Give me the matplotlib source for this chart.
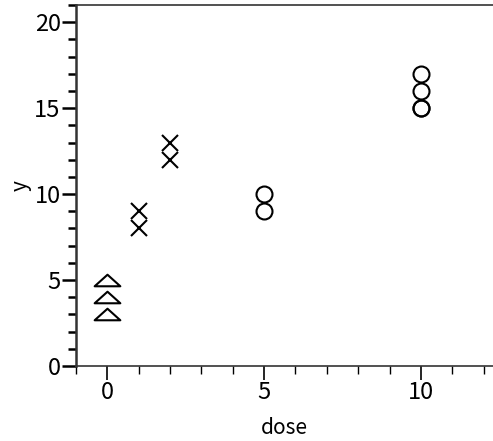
import numpy as np
import matplotlib.pyplot as plt
from matplotlib.path import Path
from matplotlib.ticker import MultipleLocator

plt.rcParams['font.family'] = ['Noto Sans CJK JP', 'DejaVu Sans']

# data
tri_dose = [0, 0, 0]
tri_y = [5, 4, 3]
x_dose = [1, 1, 2, 2]
x_y = [9, 8, 13, 12]
circ_dose = [5, 5, 10, 10, 10, 10]
circ_y = [10, 9, 17, 16, 15, 15]

flat_tri = Path([(-1, -0.45), (1, -0.45), (0, 0.45), (-1, -0.45)],
                [Path.MOVETO, Path.LINETO, Path.LINETO, Path.CLOSEPOLY])

fig = plt.figure(figsize=(4.93, 4.41), dpi=100)
ax = fig.add_axes([76/493, 75/441, 1 - 76/493, 361/441])

ax.plot(tri_dose, tri_y, linestyle='none', marker=flat_tri, markersize=18.5,
        markerfacecolor='white', markeredgecolor='black', markeredgewidth=1.5)
ax.plot(x_dose, x_y, linestyle='none', marker='x', markersize=12,
        markeredgecolor='black', markeredgewidth=1.5)
ax.plot(circ_dose, circ_y, linestyle='none', marker='o', markersize=11.5,
        markerfacecolor='none', markeredgecolor='black', markeredgewidth=1.5)

ax.set_xlim(-1, 12.3)
ax.set_ylim(0, 21)
ax.xaxis.set_major_locator(MultipleLocator(5))
ax.xaxis.set_minor_locator(MultipleLocator(1))
ax.yaxis.set_major_locator(MultipleLocator(5))
ax.yaxis.set_minor_locator(MultipleLocator(1))

ax.tick_params(which='major', direction='out', length=10, width=1.2, labelsize=17, pad=1)
ax.tick_params(which='minor', direction='out', length=6, width=1.0)
ax.tick_params(axis='y', which='both', width=1.8)

for side in ['left', 'bottom', 'top']:
    ax.spines[side].set_color('#333333')
    ax.spines[side].set_linewidth(1.2)
ax.spines['left'].set_linewidth(1.8)
ax.spines['right'].set_visible(False)

ax.set_xlabel('dose', fontsize=15, labelpad=9)
ax.set_ylabel('y', fontsize=15, labelpad=2)

fig.savefig('out.png', dpi=100)
